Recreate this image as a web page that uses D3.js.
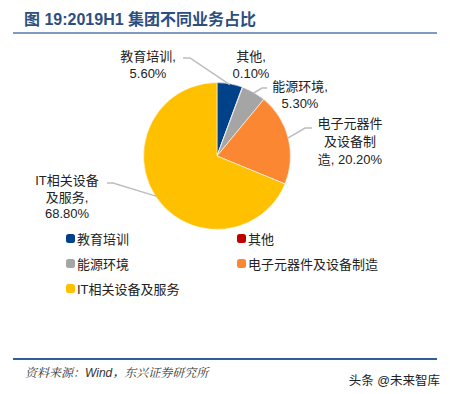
<!DOCTYPE html>
<html>
<head>
<meta charset="utf-8">
<script src="https://cdn.jsdelivr.net/npm/d3@7"></script>
<style>
  body { margin: 0; background: #fff; }
  svg { display: block; }
  text { font-family: "Liberation Sans", Arial, "Noto Sans CJK SC", sans-serif; }
</style>
</head>
<body>
<svg id="chart" width="450" height="394"></svg>
<script>
// ── Data ──
const categories = ["教育培训", "其他", "能源环境", "电子元器件及设备制造", "IT相关设备及服务"];
const shares = [5.6, 0.1, 5.3, 20.2, 68.8];
const colors = ["#00428a", "#c00000", "#a5a5a5", "#fb8732", "#ffc000"];
const labelLines = [
  ["教育培训,", "5.60%"],
  ["其他,", "0.10%"],
  ["能源环境,", "5.30%"],
  ["电子元器件", "及设备制", "造, 20.20%"],
  ["IT相关设备", "及服务,", "68.80%"]
];

// ── Layout ──
const svg = d3.select("#chart");
const cx = 217, cy = 156, radius = 73.5;

// label anchor (x, first baseline) and leader elbow start/end (null = no leader)
const labelPos = [
  { x: 148, y: 61, from: [183, 58], elbow: [190, 58] },
  { x: 251, y: 61, from: null },
  { x: 300, y: 91, from: [267, 88], elbow: [262, 88] },
  { x: 350, y: 128, from: [312, 128], elbow: [305, 128] },
  { x: 67, y: 185, from: [107, 183], elbow: [113, 183] }
];
const lineStep = [16.5, 16.5, 16.5, 18, 16.5];

// ── Title ──
svg.append("text")
  .attr("x", 24).attr("y", 25)
  .attr("font-size", 16).attr("font-weight", "bold")
  .attr("fill", "#2d4f80")
  .text("图 19:2019H1 集团不同业务占比");

svg.append("line")
  .attr("x1", 13).attr("x2", 437).attr("y1", 33).attr("y2", 33)
  .attr("stroke", "#7f9cbf").attr("stroke-width", 2);

// ── Pie ──
const pie = d3.pie().sort(null).value(d => d);
const arcs = pie(shares);
const arc = d3.arc().innerRadius(0).outerRadius(radius);

const g = svg.append("g").attr("transform", `translate(${cx},${cy})`);
g.selectAll("path")
  .data(arcs)
  .join("path")
  .attr("d", arc)
  .attr("fill", (d, i) => colors[i])
  .attr("stroke", "#fff")
  .attr("stroke-width", 0.6);

// ── Leader lines ──
arcs.forEach((d, i) => {
  const p = labelPos[i];
  if (!p.from) return;
  const a = (d.startAngle + d.endAngle) / 2;
  const end = [cx + Math.sin(a) * (radius - 1), cy - Math.cos(a) * (radius - 1)];
  svg.append("polyline")
    .attr("points", [p.from, p.elbow, end].map(q => q.join(",")).join(" "))
    .attr("fill", "none")
    .attr("stroke", "#bdbdbd")
    .attr("stroke-width", 1.5);
});

// ── Slice labels ──
labelLines.forEach((lines, i) => {
  const p = labelPos[i];
  const t = svg.append("text")
    .attr("text-anchor", "middle")
    .attr("font-size", 13)
    .attr("fill", "#222");
  lines.forEach((s, k) => {
    t.append("tspan").attr("x", p.x).attr("y", p.y + k * lineStep[i]).text(s);
  });
});

// ── Legend ──
const legendCols = [66, 237];
const legendRows = [239, 264, 289];
categories.forEach((c, i) => {
  const lx = legendCols[i % 2], ly = legendRows[Math.floor(i / 2)];
  svg.append("rect")
    .attr("x", lx).attr("y", ly - 5)
    .attr("width", 9).attr("height", 9).attr("rx", 2.5)
    .attr("fill", colors[i]);
  svg.append("text")
    .attr("x", lx + 11).attr("y", ly + 4.5)
    .attr("font-size", 13).attr("fill", "#222")
    .text(c);
});

// ── Footer ──
svg.append("line")
  .attr("x1", 13).attr("x2", 437).attr("y1", 359).attr("y2", 359)
  .attr("stroke", "#2f5f95").attr("stroke-width", 2);

const src = svg.append("text")
  .attr("x", 25).attr("y", 377)
  .attr("font-size", 12).attr("font-style", "italic")
  .attr("fill", "#333");
src.append("tspan").attr("font-family", "'Noto Serif CJK SC', 'Noto Sans CJK SC', serif").text("资料来源：");
src.append("tspan").text("Wind，");
src.append("tspan").attr("font-family", "'Noto Serif CJK SC', 'Noto Sans CJK SC', serif").text("东兴证券研究所");

svg.append("text")
  .attr("x", 440).attr("y", 385)
  .attr("text-anchor", "end")
  .attr("font-size", 12.5).attr("fill", "#222")
  .attr("font-family", "'Noto Sans CJK SC', sans-serif")
  .text("头条 @未来智库");
</script>
</body>
</html>
